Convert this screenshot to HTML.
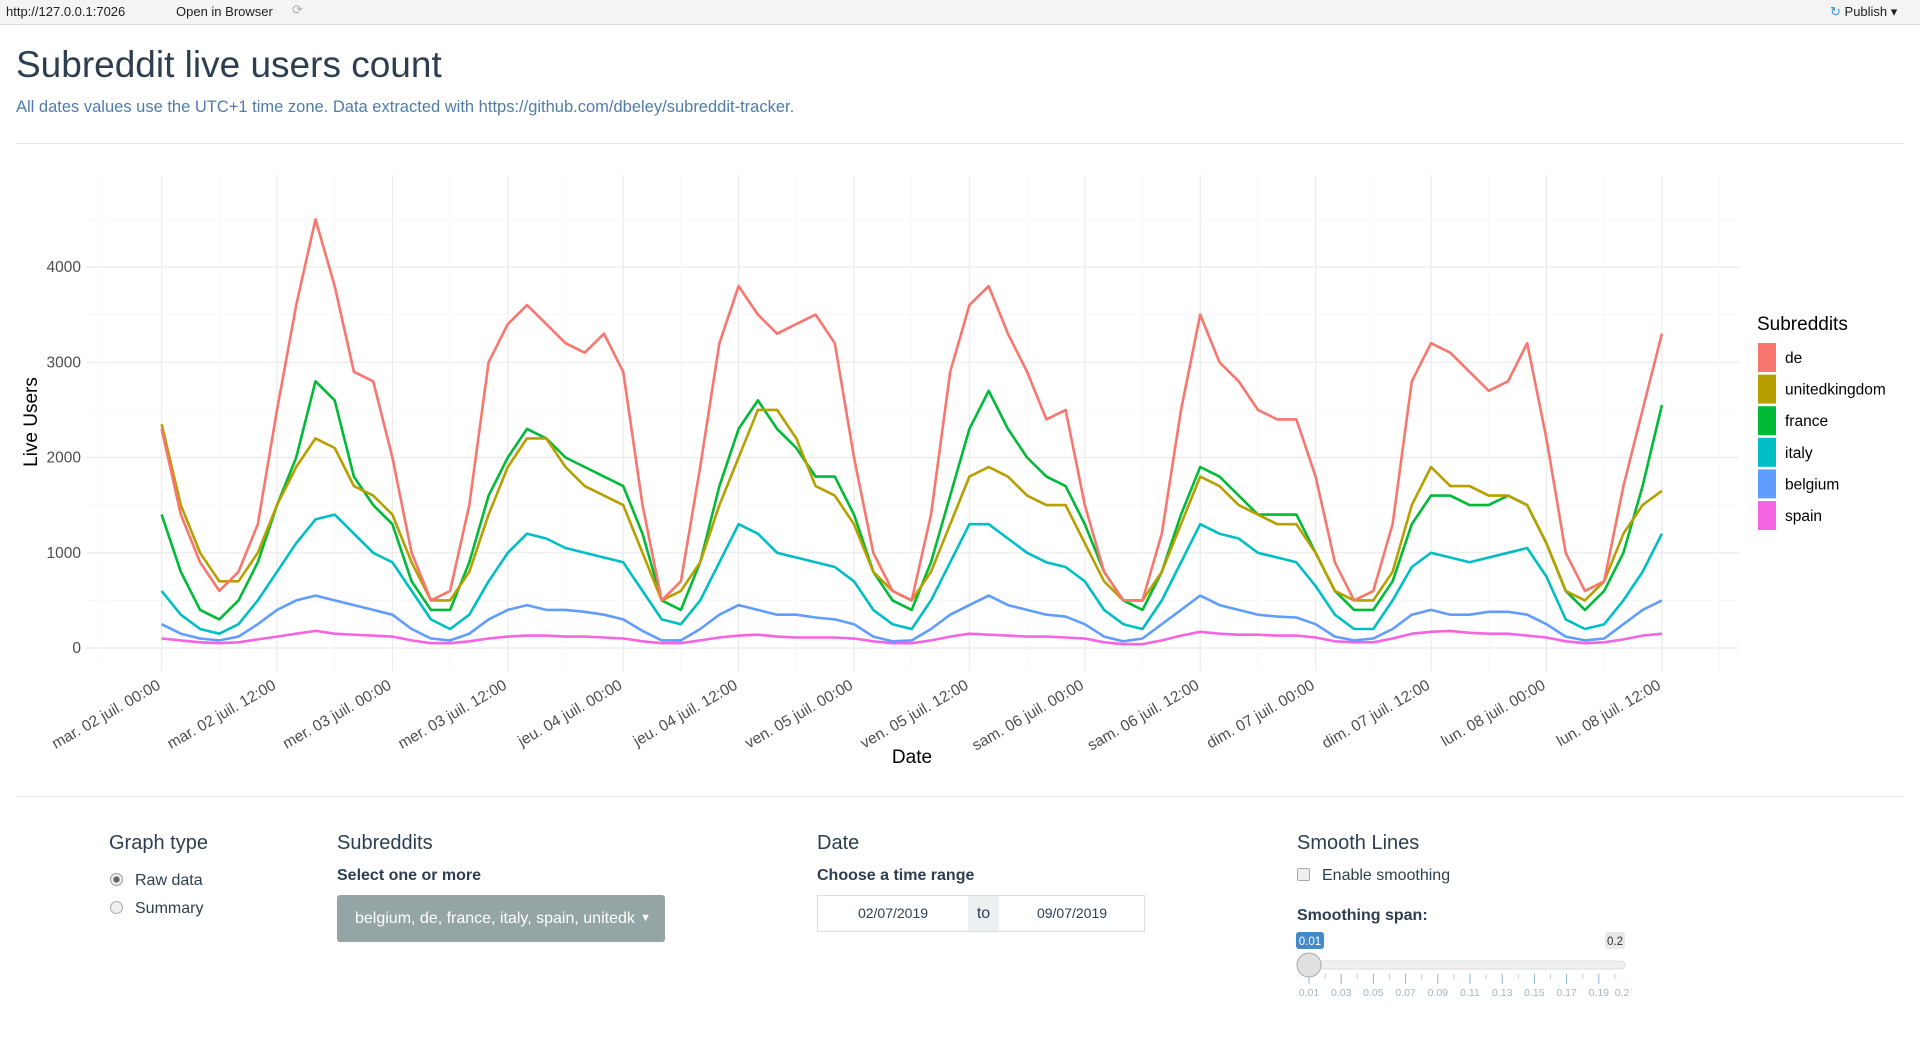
<!DOCTYPE html>
<html><head><meta charset="utf-8"><style>
body{margin:0;width:1920px;height:1053px;background:#fff;font-family:"Liberation Sans",sans-serif;position:relative;overflow:hidden;color:#2c3e50}
.abs{position:absolute}
.topbar{left:0;top:0;width:1920px;height:24px;background:#f4f4f4;border-bottom:1px solid #ddd;font-size:13px;color:#222}
h1{position:absolute;left:16px;top:44px;margin:0;font-weight:normal;font-size:37px;color:#2c3e50}
.sub{left:16px;top:98px;font-size:16.5px;color:#4f7cac}
.hr{height:1px;background:#e6e6e6;left:16px;width:1888px}
.h3{font-size:20px;color:#2c3e50}
.lbl{font-size:16px;font-weight:bold;color:#2c3e50}
.txt{font-size:16px;color:#2c3e50}
</style></head><body>
<div class="abs topbar">
 <span class="abs" style="left:6px;top:4px">http://127.0.0.1:7026</span>
 <span class="abs" style="left:176px;top:4px">Open in Browser</span>
 <span class="abs" style="left:292px;top:2px;color:#aab">⟳</span>
 <span class="abs" style="left:1830px;top:4px"><span style="color:#3a8fd8">↻</span> Publish ▾</span>
</div>
<h1>Subreddit live users count</h1>
<div class="abs sub">All dates values use the UTC+1 time zone. Data extracted with https://github.com/dbeley/subreddit-tracker.</div>
<div class="abs hr" style="top:143px"></div>

<svg class="abs" style="left:0;top:0" width="1920" height="800" id="chart"></svg>

<div class="abs hr" style="top:796px"></div>

<div class="abs h3" style="left:109px;top:832px">Graph type</div>
<div class="abs txt" style="left:110px;top:872px"><span style="display:inline-block;width:11px;height:11px;border:1px solid #999;border-radius:50%;vertical-align:-1px;margin-right:12px;background:radial-gradient(#666 35%,#eee 45%)"></span>Raw data</div>
<div class="abs txt" style="left:110px;top:900px"><span style="display:inline-block;width:11px;height:11px;border:1px solid #aaa;border-radius:50%;vertical-align:-1px;margin-right:12px;background:#eee"></span>Summary</div>

<div class="abs h3" style="left:337px;top:832px">Subreddits</div>
<div class="abs lbl" style="left:337px;top:867px">Select one or more</div>
<div class="abs txt" style="left:337px;top:895px;width:328px;height:47px;background:#95a5a6;border-radius:3px;color:#fff;line-height:47px;box-sizing:border-box;padding-left:18px;white-space:nowrap;overflow:hidden">belgium, de, france, italy, spain, unitedk<span style="position:absolute;right:14px;font-size:11px">▼</span></div>

<div class="abs h3" style="left:817px;top:832px">Date</div>
<div class="abs lbl" style="left:817px;top:867px">Choose a time range</div>
<div class="abs" style="left:817px;top:895px;width:328px;height:37px;border:1px solid #ddd;box-sizing:border-box;font-size:14px;color:#2c3e50">
 <span class="abs" style="left:0;top:0;width:150px;height:35px;line-height:35px;text-align:center">02/07/2019</span>
 <span class="abs" style="left:150px;top:0;width:31px;height:35px;line-height:35px;text-align:center;background:#ecf0f1;font-size:16px">to</span>
 <span class="abs" style="left:181px;top:0;width:146px;height:35px;line-height:35px;text-align:center">09/07/2019</span>
</div>

<div class="abs h3" style="left:1297px;top:832px">Smooth Lines</div>
<div class="abs txt" style="left:1297px;top:867px"><span style="display:inline-block;width:11px;height:11px;border:1px solid #aaa;border-radius:2px;background:#eee;vertical-align:-1px;margin-right:12px"></span>Enable smoothing</div>
<div class="abs lbl" style="left:1297px;top:907px">Smoothing span:</div>
<svg class="abs" style="left:1290px;top:930px" width="345" height="70">
 <rect x="6" y="2" width="28" height="17" rx="3" fill="#428bca"/><text x="20" y="15" font-size="11.5" fill="#fff" text-anchor="middle" font-family="Liberation Sans">0.01</text>
 <rect x="315" y="2" width="20" height="17" rx="3" fill="#e8e8e8"/><text x="325" y="15" font-size="11.5" fill="#333" text-anchor="middle" font-family="Liberation Sans">0.2</text>
 <rect x="8" y="31" width="327" height="8" rx="4" fill="#f0f0f0" stroke="#ddd"/>
 <g id="sticks"></g>
 <circle cx="19" cy="35" r="12" fill="#e0e0e0" stroke="#aaa"/>
</svg>

<script>
const times=[];for(let t=0;t<=156;t+=2)times.push(t);
const deVals=[2300,1400,900,600,800,1300,2500,3600,4500,3800,2900,2800,2000,1000,500,600,1500,3000,3400,3600,3400,3200,3100,3300,2900,1500,500,700,1900,3200,3800,3500,3300,3400,3500,3200,2000,1000,600,500,1400,2900,3600,3800,3300,2900,2400,2500,1500,800,500,500,1200,2500,3500,3000,2800,2500,2400,2400,1800,900,500,600,1300,2800,3200,3100,2900,2700,2800,3200,2200,1000,600,700,1700,2500,3300];
const ukVals=[2350,1500,1000,700,700,1000,1500,1900,2200,2100,1700,1600,1400,900,500,500,800,1400,1900,2200,2200,1900,1700,1600,1500,1000,500,600,900,1500,2000,2500,2500,2200,1700,1600,1300,800,600,500,800,1300,1800,1900,1800,1600,1500,1500,1100,700,500,500,800,1300,1800,1700,1500,1400,1300,1300,1000,600,500,500,800,1500,1900,1700,1700,1600,1600,1500,1100,600,500,700,1200,1500,1650];
const frVals=[1400,800,400,300,500,900,1500,2000,2800,2600,1800,1500,1300,700,400,400,900,1600,2000,2300,2200,2000,1900,1800,1700,1200,500,400,900,1700,2300,2600,2300,2100,1800,1800,1400,800,500,400,900,1600,2300,2700,2300,2000,1800,1700,1300,800,500,400,800,1400,1900,1800,1600,1400,1400,1400,1000,600,400,400,700,1300,1600,1600,1500,1500,1600,1500,1100,600,400,600,1000,1700,2550];
const itVals=[600,350,200,150,250,500,800,1100,1350,1400,1200,1000,900,600,300,200,350,700,1000,1200,1150,1050,1000,950,900,600,300,250,500,900,1300,1200,1000,950,900,850,700,400,250,200,500,900,1300,1300,1150,1000,900,850,700,400,250,200,500,900,1300,1200,1150,1000,950,900,650,350,200,200,500,850,1000,950,900,950,1000,1050,750,300,200,250,500,800,1200];
const beVals=[250,150,100,80,120,250,400,500,550,500,450,400,350,200,100,80,150,300,400,450,400,400,380,350,300,180,80,80,200,350,450,400,350,350,320,300,250,120,70,80,200,350,450,550,450,400,350,330,250,120,70,100,250,400,550,450,400,350,330,320,250,120,80,100,200,350,400,350,350,380,380,350,250,120,80,100,250,400,500];
const esVals=[100,80,60,50,60,90,120,150,180,150,140,130,120,80,50,50,70,100,120,130,130,120,120,110,100,70,50,50,80,110,130,140,120,110,110,110,100,70,50,50,80,120,150,140,130,120,120,110,100,60,40,40,80,130,170,150,140,140,130,130,110,70,60,60,100,150,170,180,160,150,150,130,110,70,50,60,90,130,150];
const seriesNames=["de","unitedkingdom","france","italy","belgium","spain"];
const seriesColors=["#F8766D","#B79F00","#00BA38","#00BFC4","#619CFF","#F564E3"];
const yTicks=[0,1000,2000,3000,4000];
const xTickLabels=["mar. 02 juil. 00:00","mar. 02 juil. 12:00","mer. 03 juil. 00:00","mer. 03 juil. 12:00","jeu. 04 juil. 00:00","jeu. 04 juil. 12:00","ven. 05 juil. 00:00","ven. 05 juil. 12:00","sam. 06 juil. 00:00","sam. 06 juil. 12:00","dim. 07 juil. 00:00","dim. 07 juil. 12:00","lun. 08 juil. 00:00","lun. 08 juil. 12:00"];
const sliderTicks=["0.01","0.03","0.05","0.07","0.09","0.11","0.13","0.15","0.17","0.19","0.2"];

const NS="http://www.w3.org/2000/svg";
const svg=document.getElementById('chart');
const X=t=>161.6+t*9.617;
const Y=v=>648-v*0.09525;
const PL=86,PR=1739,PT=175,PB=671;
function mk(tag,attrs,parent){const e=document.createElementNS(NS,tag);for(const k in attrs)e.setAttribute(k,attrs[k]);(parent||svg).appendChild(e);return e;}
const grid=mk('g',{});


for(let v=-500;v<=4500;v+=500){const y=Y(v);if(y<PT||y>PB)continue;mk('line',{x1:PL,x2:PR,y1:y,y2:y,stroke:v%1000===0?'#ebebeb':'#f5f5f5','stroke-width':v%1000===0?1.2:0.7},grid);}
for(let t=-6;t<=162;t+=6){const x=X(t);if(x<PL||x>PR)continue;mk('line',{x1:x,x2:x,y1:PT,y2:PB,stroke:t%12===0?'#ebebeb':'#f5f5f5','stroke-width':t%12===0?1.2:0.7},grid);}
const allVals=[deVals,ukVals,frVals,itVals,beVals,esVals];
for(let s=allVals.length-1;s>=0;s--){
 const d=allVals[s].map((v,i)=>(i?'L':'M')+X(times[i]).toFixed(1)+','+Y(v).toFixed(1)).join('');
 const p=mk('path',{d:d,fill:'none',stroke:seriesColors[s],'stroke-width':2.6,'stroke-linejoin':'round'});
 
 
}
yTicks.forEach(v=>{const t=mk('text',{x:81,y:Y(v)+5,'text-anchor':'end','font-size':15.5,fill:'#4d4d4d','font-family':'Liberation Sans'});t.textContent=v;
 
 });
xTickLabels.forEach((l,i)=>{const x=X(i*12);const t=mk('text',{x:x,y:688,'text-anchor':'end','font-size':15.5,fill:'#4d4d4d','font-family':'Liberation Sans',transform:`rotate(-30 ${x} 688)`});t.textContent=l;
 
 });
let yt=mk('text',{x:37,y:422,'text-anchor':'middle','font-size':19,fill:'#000','font-family':'Liberation Sans',transform:'rotate(-90 37 422)'});yt.textContent='Live Users';


let xt=mk('text',{x:912,y:763,'text-anchor':'middle','font-size':19,fill:'#000','font-family':'Liberation Sans'});xt.textContent='Date';


const lg=mk('g',{});


let lt=mk('text',{x:1757,y:330,'font-size':19,fill:'#000','font-family':'Liberation Sans'},lg);lt.textContent='Subreddits';
seriesNames.forEach((n,i)=>{const y=343+i*31.6;
 const r=mk('rect',{x:1758,y:y,width:18,height:29,fill:seriesColors[i]},lg);
 
 
 const t=mk('text',{x:1785,y:y+20,'font-size':15.5,fill:'#000','font-family':'Liberation Sans'},lg);t.textContent=n;
 
 });
const st=document.getElementById('sticks');
for(let i=0;i<=19;i++){const x=19+i*16.1;mk('line',{x1:x,x2:x,y1:44,y2:i%2===0?54:49,stroke:i%2===0?'#8ab4dc':'#ccc'},st);}
sliderTicks.forEach((l,i)=>{const x=i<10?19+i*32.2:323;const t=mk('text',{x:i<10?x:x+9,y:66,'text-anchor':'middle','font-size':10.5,fill:'#a8b4bd','font-family':'Liberation Sans'},st);t.textContent=l;
 
 });
</script>
</body></html>
